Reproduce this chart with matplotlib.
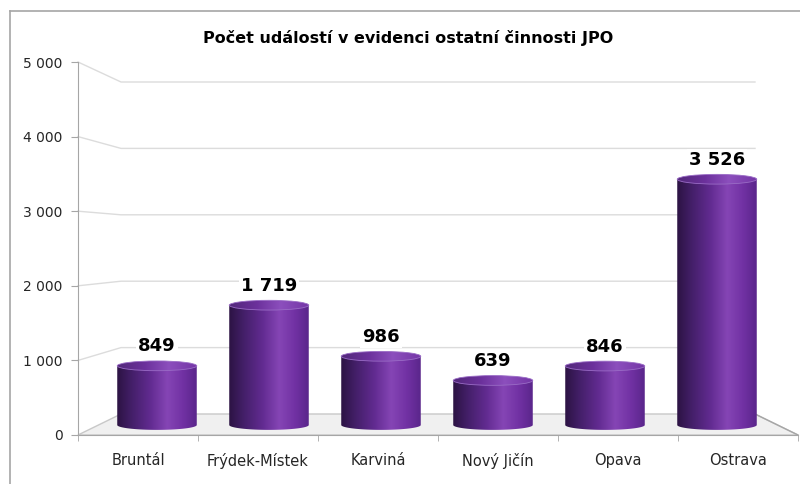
import numpy as np
import matplotlib.pyplot as plt
from matplotlib.lines import Line2D
from matplotlib.patches import Ellipse, Polygon
from matplotlib.colors import LinearSegmentedColormap
from matplotlib.ticker import FuncFormatter

title = "Počet událostí v evidenci ostatní činnosti JPO"
districts = ["Bruntál", "Frýdek-Místek", "Karviná", "Nový Jičín", "Opava", "Ostrava"]
events = [849, 1719, 986, 639, 846, 3526]
y_ticks = [0, 1000, 2000, 3000, 4000, 5000]

W, H = 800, 484
fig = plt.figure(figsize=(W / 100, H / 100), dpi=100)


def box(left, right, base, top):
    # pixel rectangle -> figure fraction
    return [left / W, 1 - base / H, (right - left) / W, (base - top) / H]


def fmt(v):
    return f"{int(v):,}".replace(",", " ")


n = len(districts)
ymax = 5000
mid_low = -300  # room below zero for the cylinder bases
mid_base, mid_top = 425, 76.5
mid_scale = (mid_base - mid_top) / ymax

# three planes of the pseudo-3D chart: back wall, front axis, bar row
ax_back = fig.add_axes(box(121, 755, 414, 82), zorder=0)
ax_front = fig.add_axes(box(78, 798, 435, 62), zorder=1)
ax_mid = fig.add_axes(box(101, 773, mid_base - mid_low * mid_scale, mid_top), zorder=2)
for ax in (ax_back, ax_front, ax_mid):
    ax.set_xlim(-0.5, n - 0.5)
    ax.set_ylim(0, ymax)
    ax.patch.set_visible(False)
ax_mid.set_ylim(mid_low, ymax)
ax_back.axis("off")
ax_mid.axis("off")

# front axis with ticks and labels
for s in ("top", "right"):
    ax_front.spines[s].set_visible(False)
for s in ("left", "bottom"):
    ax_front.spines[s].set_color("#a6a6a6")
ax_front.set_yticks(y_ticks)
ax_front.yaxis.set_major_formatter(FuncFormatter(lambda v, p: fmt(v)))
ax_front.tick_params(axis="y", length=5, color="#a6a6a6", labelsize=10,
                     pad=6, labelcolor="#262626")
ax_front.set_xticks(range(n))
ax_front.set_xticklabels(districts)
ax_front.set_xticks(np.arange(n + 1) - 0.5, minor=True)
ax_front.tick_params(axis="x", which="major", length=0, pad=13,
                     labelsize=10.5, labelcolor="#262626")
ax_front.tick_params(axis="x", which="minor", length=4, color="#a6a6a6")

to_back = ax_back.transData.inverted()


def front_pt(x, v):
    return to_back.transform(ax_front.transData.transform((x, v)))


# gridlines running from the front axis onto the back wall
for v in y_ticks[1:]:
    fx, fy = front_pt(-0.5, v)
    ax_back.plot([fx, -0.5, n - 0.5], [fy, v, v], color="#dcdcdc", lw=1,
                 clip_on=False)

# floor
floor = [front_pt(-0.5, 0), front_pt(n - 0.5, 0), (n - 0.5, 0), (-0.5, 0)]
ax_back.add_patch(Polygon(floor, closed=True, facecolor="#f0f0f0",
                          edgecolor="#c8c8c8", lw=1, clip_on=False))
fx, fy = front_pt(n - 0.5, 0)
ax_back.plot([fx, n - 0.5], [fy, 0], color="#a6a6a6", lw=1, clip_on=False)

# cylinders
body_cmap = LinearSegmentedColormap.from_list("cyl", [
    (0.0, "#2c1343"), (0.18, "#431f68"), (0.42, "#622b91"),
    (0.63, "#8545b5"), (0.83, "#7131a3"), (1.0, "#5a268b")])
top_cmap = LinearSegmentedColormap.from_list("cyl_top", [
    (0.0, "#52287a"), (0.35, "#6c319c"), (0.65, "#8c4fbd"), (1.0, "#7436a6")])
grad = np.linspace(0, 1, 256).reshape(1, -1)
width = 0.71
cap = 140

for i, v in enumerate(events):
    x0, x1 = i - width / 2, i + width / 2
    t = np.linspace(np.pi, 2 * np.pi, 80)
    arc = np.column_stack([i + width / 2 * np.cos(t), cap / 2 * np.sin(t)])
    body = Polygon(np.vstack([[x0, v], arc, [x1, v]]), closed=True,
                   transform=ax_mid.transData)
    im = ax_mid.imshow(grad, cmap=body_cmap, extent=(x0, x1, -cap / 2, v),
                       aspect="auto", origin="lower", zorder=2,
                       interpolation="bilinear")
    im.set_clip_path(body)

    top = Ellipse((i, v), width, cap, transform=ax_mid.transData)
    im2 = ax_mid.imshow(grad, cmap=top_cmap,
                        extent=(x0, x1, v - cap / 2, v + cap / 2),
                        aspect="auto", origin="lower", zorder=3,
                        interpolation="bilinear")
    im2.set_clip_path(top)
    ax_mid.add_patch(Ellipse((i, v), width, cap, facecolor="none",
                             edgecolor="#9a6cc6", lw=0.6, zorder=3.5))

    ax_mid.text(i, v + 280, fmt(v), ha="center", va="center", fontsize=13,
                fontweight="bold", color="black", zorder=4,
                bbox=dict(facecolor="white", edgecolor="none", pad=1.5))

ax_mid.set_xlim(-0.5, n - 0.5)
ax_mid.set_ylim(mid_low, ymax)

fig.text(408 / W, 1 - 38 / H, title, ha="center", va="center",
         fontsize=11.5, fontweight="bold", color="black")

# chart area border
fig.add_artist(Line2D([10 / W, 10 / W], [0, 1 - 11 / H], color="#a6a6a6", lw=1.2))
fig.add_artist(Line2D([10 / W, 1], [1 - 11 / H, 1 - 11 / H], color="#a6a6a6", lw=1.2))

fig.savefig("out.png", dpi=100)
